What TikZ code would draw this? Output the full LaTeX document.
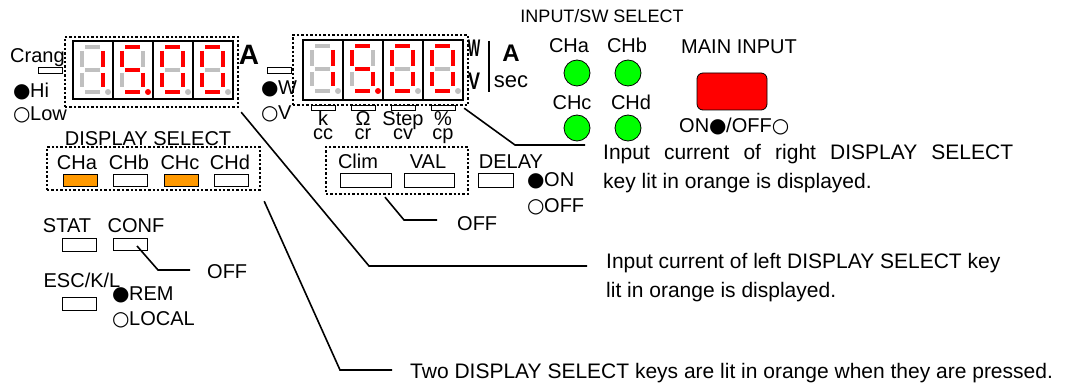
\documentclass[tikz,border=0pt]{standalone}
\usepackage{fontspec}
\setmainfont{Liberation Sans}
\newfontfamily\symfont{DejaVu Sans}
\usepackage{graphicx}
\usetikzlibrary{positioning}

\definecolor{segred}{HTML}{FF0000}
\definecolor{seggray}{HTML}{C0C0C0}
\definecolor{lampgreen}{HTML}{00FF00}
\definecolor{keyorange}{HTML}{FF9900}

\newcommand{\bdot}{\makebox[0.85em][l]{\symfont ●}}
\newcommand{\wdot}{\makebox[0.85em][l]{\symfont ○}}

% one seven-segment digit: cell corner, lit segments, colour of the point
\newcommand{\segdigit}[3]{%
  \begin{scope}[shift={#1}]
    \foreach \s/\x/\y/\u/\v in {a/12/6/27/6, b/30/10/30/26, c/30/32/30/46,
        d/12/51/27/51, e/9/32/9/46, f/9/10/9/26, g/12/29/27/29}{
      \coordinate (\s1) at (\x,\y);
      \coordinate (\s2) at (\u,\v);
      \draw[seg] (\s1) -- (\s2);
    }
    \foreach \s in {#2} \draw[seg, draw=segred] (\s1) -- (\s2);
    \fill[#3] (35,51) circle (3);
  \end{scope}}

\begin{document}
\begin{tikzpicture}[x=1pt, y=-1pt,
    every node/.style={inner sep=0pt},
    lbl/.style={font=\fontsize{20}{24}\selectfont, anchor=base},
    desc/.style={font=\fontsize{21}{29}\selectfont, anchor=base west, align=left},
    big/.style={font=\fontsize{24}{24}\selectfont\bfseries, anchor=base},
    key/.style={draw, line width=0.8pt, fill=white, minimum width=34pt, minimum height=12pt},
    tab/.style={draw, line width=0.8pt, fill=white, minimum width=24pt, minimum height=5pt},
    dotbox/.style={draw, line width=2.4pt, dash pattern=on 2.4pt off 2pt},
    frame/.style={draw, line width=1.6pt},
    lamp/.style={circle, draw, line width=0.8pt, fill=lampgreen, minimum size=26pt},
    lead/.style={line width=1.6pt}
  ]
  \tikzset{seg/.style={line width=4pt, draw=seggray}}
  \useasboundingbox (0,0) rectangle (1069,385);

  % left display
  \draw[frame] (73,41) rectangle (233,99);
  \foreach \x in {113,153,193} \draw[frame] (\x,41) -- (\x,99);
  \segdigit{(73,41)}{b,c}{seggray}
  \segdigit{(113,41)}{a,f,g,c,d}{segred}
  \segdigit{(153,41)}{a,b,c,d,e,f}{seggray}
  \segdigit{(193,41)}{a,b,c,d,e,f}{seggray}
  \node[dotbox, minimum width=173pt, minimum height=70pt] (lbox) at (151.5,72) {};
  \node[big, font=\fontsize{28}{28}\selectfont\bfseries] (lunit) at (249,65) {A};
  \node[lbl, anchor=base west] (crang) at (10,63) {Crang};
  \node[tab, minimum height=6pt] (crangkey) at (50,70.5) {};
  \node[lbl, anchor=base west] (hi) at (13,98) {\bdot Hi};
  \node[lbl, anchor=base west] (low) at (13,121) {\wdot Low};

  % right display
  \draw[frame] (303,40) rectangle (463,100);
  \foreach \x in {343,383,423} \draw[frame] (\x,40) -- (\x,100);
  \segdigit{(303,40)}{b,c}{seggray}
  \segdigit{(343,40)}{a,f,g,c,d}{segred}
  \segdigit{(383,40)}{a,b,c,d,e,f}{seggray}
  \segdigit{(423,40)}{a,b,c,d,e,f}{seggray}
  \node[tab, minimum height=6pt] (wkey) at (279.5,70) {};
  \node[lbl, anchor=base west] (w) at (261,95) {\bdot W};
  \node[lbl, anchor=base west] (v) at (261,120) {\wdot V};
  \node[dotbox, minimum width=175pt, minimum height=70pt] (rbox) at (380.5,70) {};
  \foreach \x/\up/\dn [count=\i] in {323/k/cc, 363/Ω/cr, 403/Step/cv, 443/\%/cp}{
    \node[tab] (tab\i) at (\x,107.5) {};
    \node[lbl] (up\i) at (\x,126) {\up};
    \node[lbl] (dn\i) at (\x,140) {\dn};
  }
  \node[big] (wunit) at (474,57) {\scalebox{0.55}[1]{W}};
  \node[big] (vunit) at (474,90) {\scalebox{0.75}[1]{V}};
  \draw[line width=1.8pt] (489,41) -- (489,92);
  \node[big] (aunit) at (511,62) {A};
  \node[lbl, font=\fontsize{22}{22}\selectfont] (sec) at (511,88) {sec};

  % input / switch select and main input
  \node[lbl, font=\fontsize{18}{22}\selectfont] (swsel) at (602,23) {INPUT/SW SELECT};
  \node[lbl] (cha) at (569,53) {CHa};
  \node[lbl] (chb) at (627,53) {CHb};
  \node[lbl] (chc) at (572,110) {CHc};
  \node[lbl] (chd) at (631,110) {CHd};
  \node[lamp] (lampa) at (577,73) {};
  \node[lamp] (lampb) at (628,73) {};
  \node[lamp] (lampc) at (577,128) {};
  \node[lamp] (lampd) at (628,128) {};
  \node[lbl] (mainin) at (739,54) {MAIN INPUT};
  \node[draw, line width=0.8pt, fill=segred, rounded corners=6pt,
        minimum width=70pt, minimum height=37pt] (mainkey) at (732,91.5) {};
  \node[lbl] (onoff) at (734,133) {ON\bdot/OFF\wdot};

  % display select keys
  \node[lbl] (dsel) at (148,146) {DISPLAY SELECT};
  \foreach \x/\k/\t/\f [count=\i] in {77/80/CHa/keyorange, 129/130.5/CHb/white,
      180/181/CHc/keyorange, 230/231.5/CHd/white}{
    \node[lbl] (sel\i) at (\x,170) {\t};
    \node[key, fill=\f] (selkey\i) at (\k,180) {};
  }
  \node[dotbox, minimum width=213pt, minimum height=43pt] (selbox) at (153.5,168.5) {};

  % stat, conf, esc
  \node[lbl] (stat) at (67,233) {STAT};
  \node[lbl] (conf) at (136,233) {CONF};
  \node[key, minimum height=13pt] (statkey) at (79.5,244.5) {};
  \node[key] (confkey) at (130,244) {};
  \node[lbl] (esc) at (82,287) {ESC/K/L};
  \node[key, minimum height=13pt] (esckey) at (79.5,303.5) {};
  \node[lbl, anchor=base west] (rem) at (112,300) {\bdot REM};
  \node[lbl, anchor=base west] (local) at (112,325) {\wdot LOCAL};
  \coordinate (cbend) at (158,270);
  \coordinate (cend) at (190,270);
  \draw[lead] ([shift={(7,2)}]confkey.center) -- (cbend) -- (cend);
  \node[lbl, anchor=base west] (confoff) at (207,278) {OFF};

  % clim, val, delay
  \node[lbl] (clim) at (358,168) {Clim};
  \node[lbl] (val) at (428,168) {VAL};
  \node[lbl] (delay) at (511,168) {DELAY};
  \node[key, minimum width=51pt, minimum height=14pt] (climkey) at (365.5,180) {};
  \node[key, minimum width=50pt, minimum height=14pt] (valkey) at (429,180) {};
  \node[key, minimum width=35pt, minimum height=14pt] (delaykey) at (495.5,180) {};
  \node[dotbox, minimum width=142pt, minimum height=47pt] (valbox) at (397,170.5) {};
  \node[lbl, anchor=base west] (don) at (527,187) {\bdot ON};
  \node[lbl, anchor=base west] (doff) at (527,212) {\wdot OFF};
  \coordinate (vbend) at (404,220);
  \coordinate (vend) at (437,220);
  \draw[lead] ([shift={(-12,2)}]valbox.south) -- (vbend) -- (vend);
  \node[lbl, anchor=base west] (valoff) at (457,230) {OFF};

  % notes (base of a two-line note is its last line)
  \coordinate (rbend) at (515,145);
  \coordinate (rend) at (585,145);
  \draw[lead] ([shift={(-5,2)}]rbox.south east) -- (rbend) -- (rend);
  \node[desc] (righttxt) at (603,189)
    {\makebox[410pt][s]{Input current of right DISPLAY SELECT}\\key lit in orange is displayed.};
  \coordinate (lbend) at (369,266);
  \coordinate (lend) at (587,266);
  \draw[lead] ([shift={(2,4)}]lbox.south east) -- (lbend) -- (lend);
  \node[desc] (lefttxt) at (606,297)
    {Input current of left DISPLAY SELECT key\\lit in orange is displayed.};
  \coordinate (bbend) at (340,370);
  \coordinate (bend) at (392,370);
  \draw[lead] ([shift={(3,10)}]selbox.south east) -- (bbend) -- (bend);
  \node[desc] (bottxt) at (410,378)
    {Two DISPLAY SELECT keys are lit in orange when they are pressed.};
\end{tikzpicture}
\end{document}
